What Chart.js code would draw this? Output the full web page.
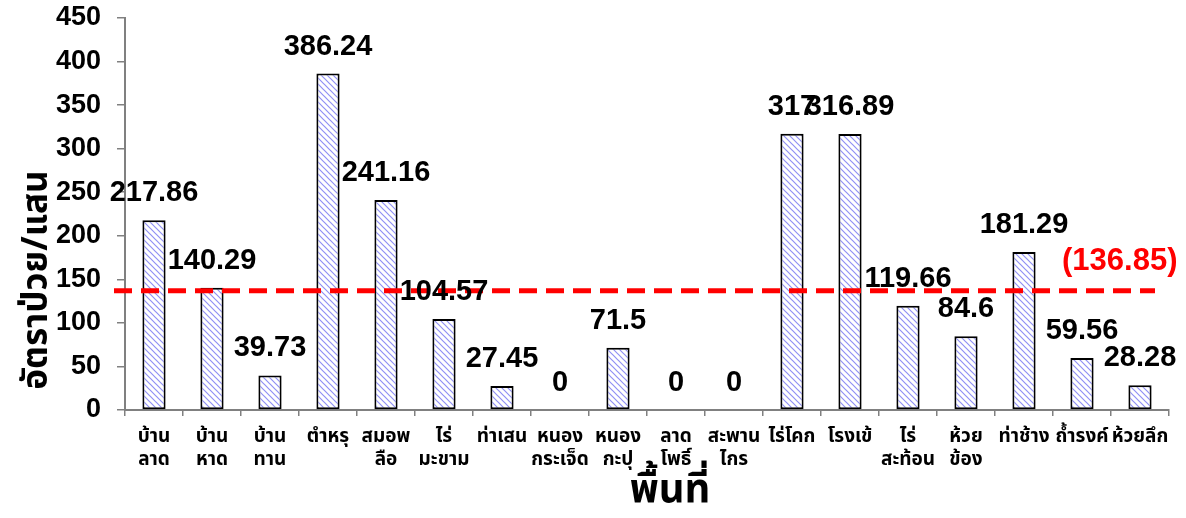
<!DOCTYPE html>
<html>
<head>
<meta charset="utf-8">
<script src="https://cdn.jsdelivr.net/npm/chart.js@4.4.1/dist/chart.umd.min.js"></script>
<style>
html,body{margin:0;padding:0;background:#fff;}
#wrap{width:1186px;height:518px;position:relative;}
</style>
</head>
<body>
<div id="wrap"><canvas id="c" width="1186" height="518"></canvas></div>
<script>
const categories = [
  ["บ้าน","ลาด"], ["บ้าน","หาด"], ["บ้าน","ทาน"], ["ตำหรุ"], ["สมอพ","ลือ"],
  ["ไร่","มะขาม"], ["ท่าเสน"], ["หนอง","กระเจ็ด"], ["หนอง","กะปุ"], ["ลาด","โพธิ์"],
  ["สะพาน","ไกร"], ["ไร่โคก"], ["โรงเข้"], ["ไร่","สะท้อน"], ["ห้วย","ข้อง"],
  ["ท่าช้าง"], ["ถ้ำรงค์"], ["ห้วยลึก"]
];
const rates = [217.86, 140.29, 39.73, 386.24, 241.16, 104.57, 27.45, 0, 71.5, 0, 0, 317, 316.89, 119.66, 84.6, 181.29, 59.56, 28.28];
const rateLabels = ["217.86","140.29","39.73","386.24","241.16","104.57","27.45","0","71.5","0","0","317","316.89","119.66","84.6","181.29","59.56","28.28"];
const referenceValue = 136.85;
const referenceLabel = "(136.85)";
const yTicks = [0, 50, 100, 150, 200, 250, 300, 350, 400, 450];
const xTitle = "พื้นที่";
const yTitle = "อัตราป่วย/แสน";

function makePattern(){
  const p = document.createElement('canvas');
  p.width = 6; p.height = 6;
  const g = p.getContext('2d');
  g.fillStyle = '#ffffff';
  g.fillRect(0,0,6,6);
  g.strokeStyle = '#9090f4';
  g.lineWidth = 1.2;
  g.beginPath();
  g.moveTo(-1,-1); g.lineTo(7,7);
  g.moveTo(-4,2); g.lineTo(2,8);
  g.moveTo(2,-4); g.lineTo(8,2);
  g.stroke();
  const ctx = document.getElementById('c').getContext('2d');
  return ctx.createPattern(p,'repeat');
}

const THAI = '"Tahoma","Leelawadee UI","Noto Sans Thai","Noto Sans","DejaVu Sans",sans-serif';
const NUM = '"Liberation Sans",Arial,sans-serif';

const overlay = {
  id: 'overlay',
  afterDatasetsDraw(chart){
    const ctx = chart.ctx;
    const meta = chart.getDatasetMeta(0);
    const y = chart.scales.y;
    const area = chart.chartArea;
    ctx.save();
    // reference line
    const ry = y.getPixelForValue(referenceValue);
    ctx.strokeStyle = '#ff0000';
    ctx.lineWidth = 5;
    ctx.setLineDash([18, 9]);
    ctx.beginPath();
    ctx.moveTo(area.left - 11, ry);
    ctx.lineTo(area.right - 14, ry);
    ctx.stroke();
    ctx.setLineDash([]);
    // data labels
    ctx.fillStyle = '#000';
    ctx.font = 'bold 29px ' + NUM;
    ctx.textAlign = 'center';
    ctx.textBaseline = 'middle';
    meta.data.forEach((bar, i) => {
      ctx.fillText(rateLabels[i], bar.x, bar.y - 27);
    });
    // reference label
    ctx.fillStyle = '#ff0000';
    ctx.font = 'bold 31px ' + NUM;
    ctx.textAlign = 'left';
    ctx.fillText(referenceLabel, 1062, ry - 29);
    // axis titles
    ctx.fillStyle = '#000';
    ctx.font = 'bold 40px ' + THAI;
    ctx.textAlign = 'center';
    ctx.fillText(xTitle, 670, 494);
    ctx.save();
    ctx.translate(40, 280);
    ctx.rotate(-Math.PI/2);
    ctx.font = 'bold 35px ' + THAI;
    ctx.fillText(yTitle, 0, 0);
    ctx.restore();
    ctx.restore();
  }
};

new Chart(document.getElementById('c'), {
  type: 'bar',
  data: {
    labels: categories,
    datasets: [{
      data: rates,
      backgroundColor: makePattern(),
      borderColor: '#000000',
      borderWidth: 2,
      borderSkipped: false,
      categoryPercentage: 1.0,
      barPercentage: 0.4
    }]
  },
  options: {
    responsive: false,
    animation: false,
    layout: { padding: { top: 18, right: 17, left: 0, bottom: 0 } },
    plugins: { legend: { display: false }, tooltip: { enabled: false } },
    scales: {
      x: {
        offset: true,
        grid: { offset: true, drawOnChartArea: false, drawTicks: true, tickLength: 6, color: '#808080', lineWidth: 1.5 },
        border: { color: '#808080', width: 2 },
        ticks: {
          color: '#000',
          font: { family: THAI, size: 19, weight: 'bold', lineHeight: 1.25 },
          padding: 10,
          maxRotation: 0,
          autoSkip: false
        },
        afterFit(scale){ scale.height = 108; scale.paddingLeft = 0; scale.paddingRight = 0; }
      },
      y: {
        min: 0, max: 450,
        afterBuildTicks(scale){ scale.ticks = yTicks.map(v => ({ value: v })); },
        grid: { drawOnChartArea: false, drawTicks: true, tickLength: 8, color: '#808080', lineWidth: 1.5 },
        border: { color: '#808080', width: 2 },
        ticks: {
          color: '#000',
          font: { family: NUM, size: 27, weight: 'bold' },
          padding: 16
        },
        afterFit(scale){ scale.width = 125; scale.paddingTop = 0; scale.paddingBottom = 0; }
      }
    }
  },
  plugins: [overlay]
});
</script>
</body>
</html>
